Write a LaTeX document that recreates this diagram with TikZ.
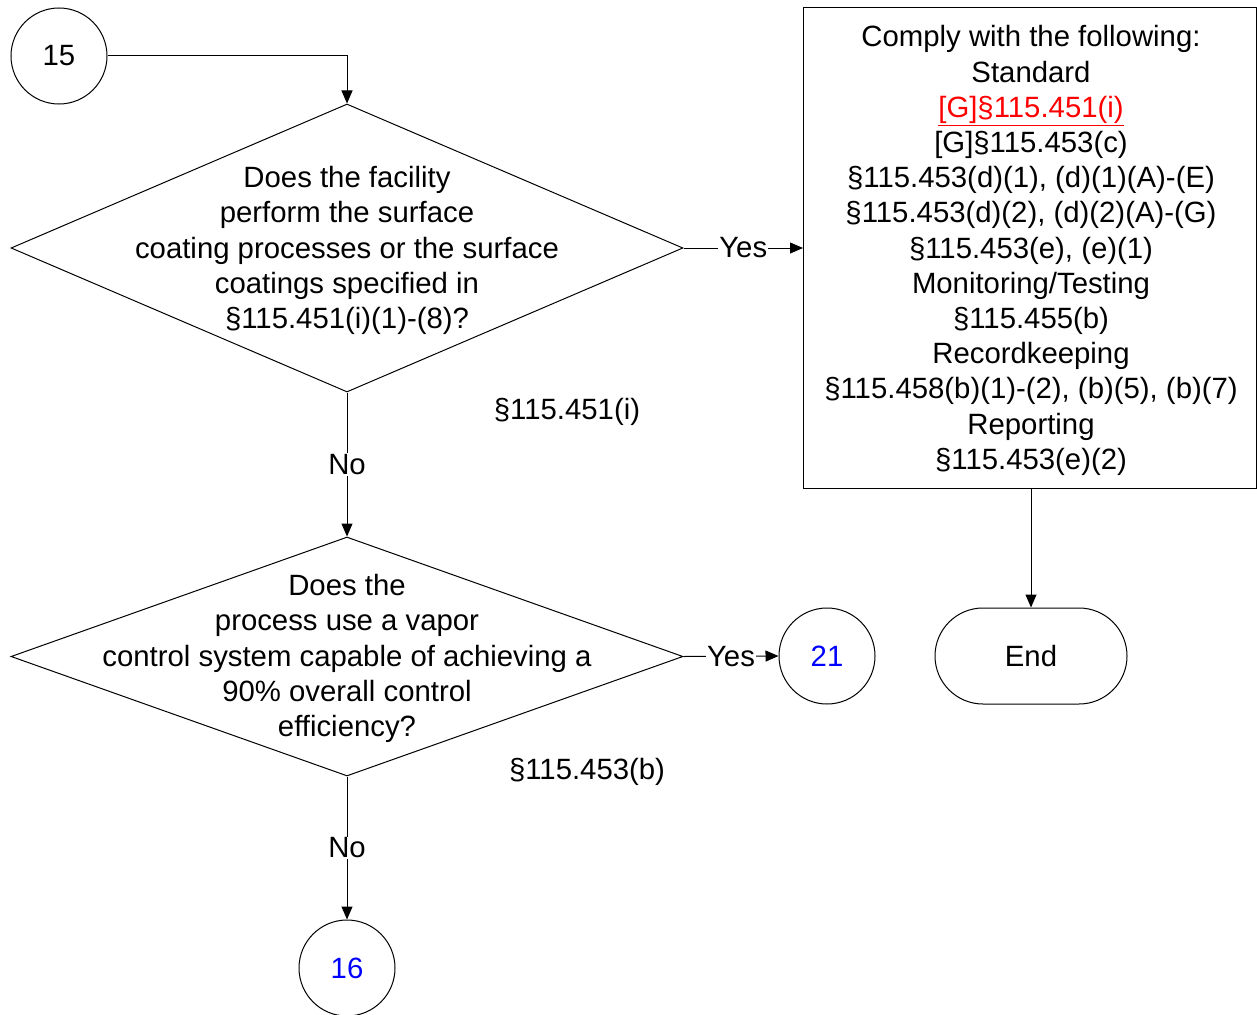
\documentclass[tikz,border=0pt]{standalone}
\usepackage{fontspec}
\setmainfont{Liberation Sans}
\usetikzlibrary{shapes.geometric,shapes.misc,arrows.meta}
\definecolor{linkred}{RGB}{255,0,0}
\definecolor{linkblue}{RGB}{0,0,255}
\begin{document}
\begin{tikzpicture}[x=1pt,y=-1pt,
  every node/.style={font=\fontsize{29.33}{35.2}\selectfont},
  line/.style={draw=black,line width=1pt},
  arr/.style={line,-{Triangle[length=13pt,width=11pt]}},
  conn/.style={draw,circle,line width=1pt,minimum size=96pt,inner sep=0pt},
  dec/.style={draw,diamond,line width=1pt,inner sep=0pt},
  txt/.style={align=center,inner sep=0pt},
  lbl/.style={fill=white,inner sep=1pt},
  endbox/.style={draw,rounded rectangle,line width=1pt,minimum width=192pt,minimum height=96pt,inner sep=0pt},
  stdbox/.style={draw,rectangle,line width=1pt,minimum width=453pt,minimum height=480pt,inner sep=0pt}
]
\useasboundingbox (0,0) rectangle (1257,1014);
\node[conn] (c15) at (59,56) {15};
\node[dec,minimum width=672pt,minimum height=288pt] (d1) at (347,248) {};
\node[txt] (d1t) at (347,250.5) {Does the facility\\perform the surface\\coating processes or the surface\\coatings specified in\\§115.451(i)(1)-(8)?};
\node[stdbox] (box) at (1030,248) {};
\node[txt] (boxt) at (1031,250.5) {Comply with the following:\\Standard\\\textcolor{linkred}{\underline{[G]§115.451(i)}}\\{}[G]§115.453(c)\\§115.453(d)(1), (d)(1)(A)-(E)\\§115.453(d)(2), (d)(2)(A)-(G)\\§115.453(e), (e)(1)\\Monitoring/Testing\\§115.455(b)\\Recordkeeping\\§115.458(b)(1)-(2), (b)(5), (b)(7)\\Reporting\\§115.453(e)(2)};
\node[endbox] (end) at (1031,656) {End};
\node[dec,minimum width=672pt,minimum height=239pt] (d2) at (347,656.5) {};
\node[txt] (d2t) at (347,658.5) {Does the\\process use a vapor\\control system capable of achieving a\\90\% overall control\\efficiency?};
\node[conn,text=linkblue] (c21) at (827,656) {21};
\node[conn,text=linkblue] (c16) at (347,968) {16};
\node[txt] (ref1) at (567,411.5) {§115.451(i)};
\node[txt] (ref2) at (587,771.5) {§115.453(b)};
\draw[arr] (c15.east) -| (d1.north);
\draw[arr] (d1.east) -- node[lbl]{Yes} (box.west |- d1.east);
\draw[arr] (box.south -| end.north) -- (end.north);
\draw[arr] (d1.south) -- node[lbl]{No} (d2.north);
\draw[arr] (d2.east) -- node[lbl]{Yes} (c21.west);
\draw[arr] (d2.south) -- node[lbl]{No} (c16.north);
\end{tikzpicture}
\end{document}
